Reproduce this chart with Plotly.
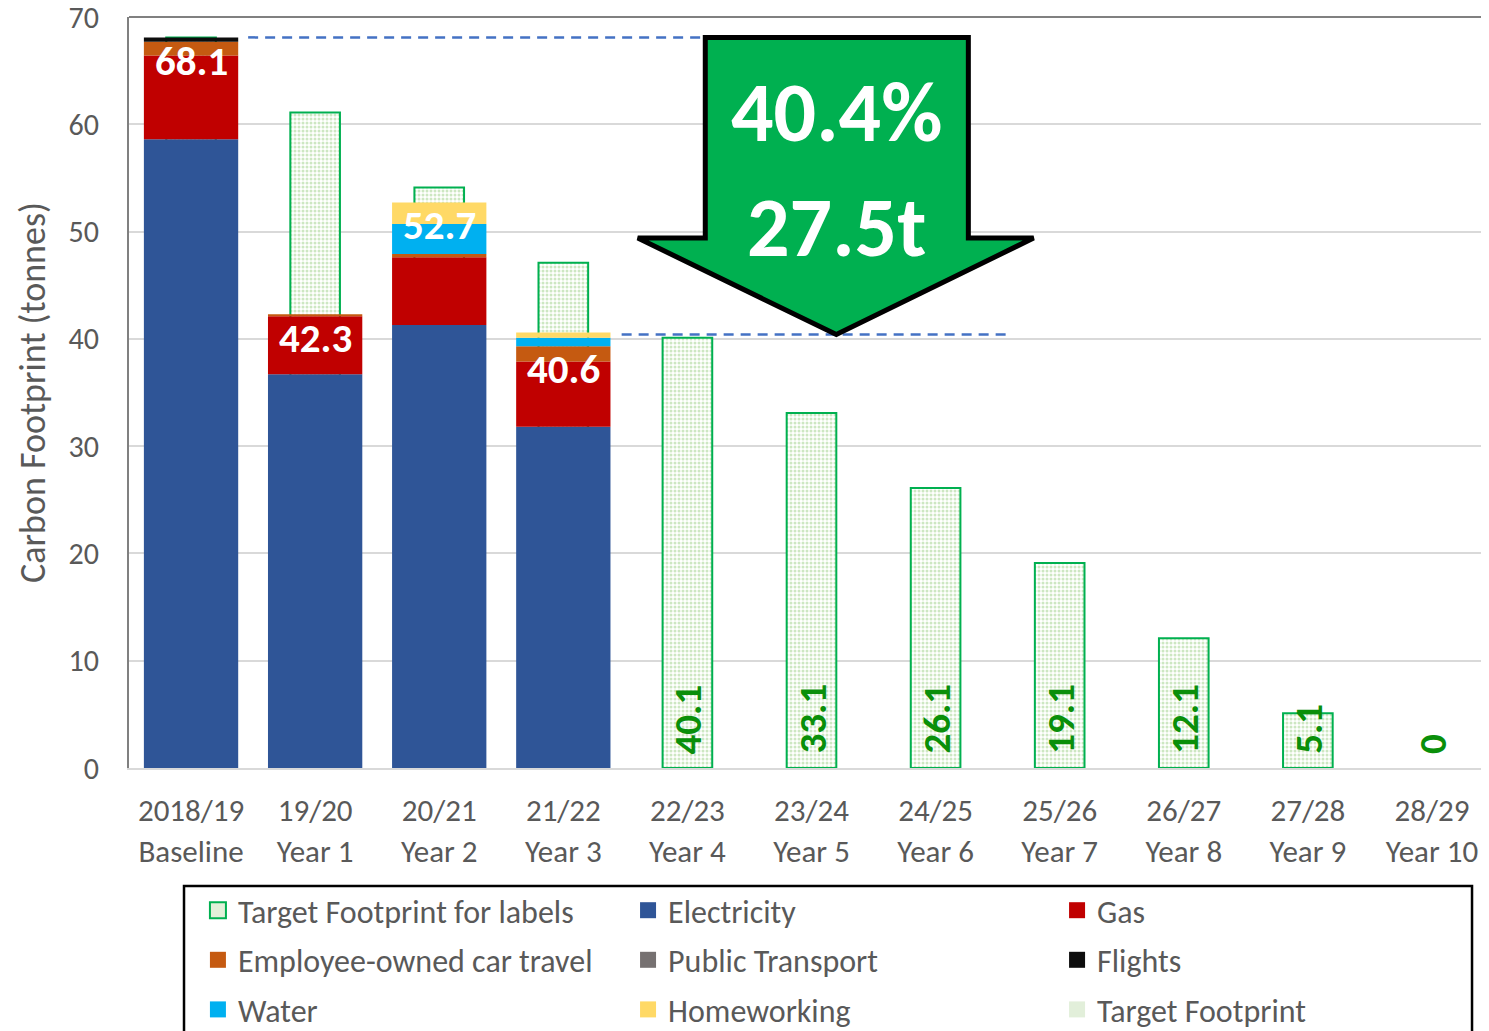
import plotly.graph_objects as go
import numpy as np

categories = ["2018/19<br>Baseline", "19/20<br>Year 1", "20/21<br>Year 2", "21/22<br>Year 3",
              "22/23<br>Year 4", "23/24<br>Year 5", "24/25<br>Year 6", "25/26<br>Year 7",
              "26/27<br>Year 8", "27/28<br>Year 9", "28/29<br>Year 10"]

electricity = [58.6, 36.7, 41.3, 31.8, None, None, None, None, None, None, None]
gas = [7.8, 5.4, 6.3, 6.1, None, None, None, None, None, None, None]
car_travel = [1.3, 0.2, 0.3, 1.4, None, None, None, None, None, None, None]
public_transport = [0.0, 0.0, 0.0, 0.0, None, None, None, None, None, None, None]
flights = [0.4, 0.0, 0.0, 0.0, None, None, None, None, None, None, None]
water = [0.0, 0.0, 2.8, 0.8, None, None, None, None, None, None, None]
homeworking = [0.0, 0.0, 2.0, 0.5, None, None, None, None, None, None, None]
target_labels = [68.1, 61.1, 54.1, 47.1, 40.1, 33.1, 26.1, 19.1, 12.1, 5.1, 0]
target_footprint = [None] * 11

reduction_pct = "40.4%"
reduction_t = "27.5t"

FONT = "Calibri, Carlito, Lato, sans-serif"
GREY = "#595959"

x = list(range(len(categories)))

fig = go.Figure()

# target bars (behind)
fig.add_trace(go.Bar(
    x=x, y=target_labels, name="Target Footprint for labels", width=0.4,
    marker=dict(color="#F4FAF0",
                line=dict(color="#00B050", width=[2 if v > 0 else 0 for v in target_labels]),
                pattern=dict(shape=".", fgcolor="#9BCF86", bgcolor="#FFFFFF", size=4, solidity=0.45)),
    showlegend=False, hoverinfo="skip"))

series = [
    ("Electricity", electricity, "#2F5597"),
    ("Gas", gas, "#C00000"),
    ("Employee-owned car travel", car_travel, "#C55A11"),
    ("Public Transport", public_transport, "#767171"),
    ("Flights", flights, "#0D0D0D"),
    ("Water", water, "#00B0F0"),
    ("Homeworking", homeworking, "#FFD966"),
]
colors = {n: c for n, _, c in series}
colors["Target Footprint"] = "#E2EFDA"

base = np.zeros(len(categories))
for name, vals, col in series:
    v = np.array([np.nan if a is None else a for a in vals], dtype=float)
    fig.add_trace(go.Bar(x=x, y=v, base=base.copy(), name=name, width=0.76, showlegend=False,
                         marker=dict(color=col, line=dict(width=0))))
    base = base + np.nan_to_num(v)

fig.add_trace(go.Bar(x=x, y=target_footprint, name="Target Footprint", showlegend=False,
                     marker=dict(color="#E2EFDA")))

totals = [round(b, 1) for b in base]

# legend entries (three columns, row-wise order as in the source legend)
legend_cols = {
    "legend": ["Target Footprint for labels", "Employee-owned car travel", "Water"],
    "legend2": ["Electricity", "Public Transport", "Homeworking"],
    "legend3": ["Gas", "Flights", "Target Footprint"],
}
for lg, names in legend_cols.items():
    for nm in names:
        if nm == "Target Footprint for labels":
            mk = dict(symbol="square", size=17, color="#E2F0D9", line=dict(color="#00B050", width=2))
        else:
            mk = dict(symbol="square", size=18, color=colors[nm], line=dict(width=0))
        fig.add_trace(go.Scatter(x=[None], y=[None], mode="markers", name=nm, marker=mk,
                                 legend=lg, legendgroup=nm, showlegend=True, hoverinfo="skip"))

annotations = []
label_shift = [3, 3, 5, -10]
for i in range(4):
    annotations.append(dict(x=x[i], y=totals[i], xref="x", yref="y", text=f"<b>{totals[i]:.1f}</b>",
                            showarrow=False, yanchor="top", yshift=label_shift[i],
                            font=dict(family=FONT, size=41, color="white")))
for i in range(4, len(categories)):
    t = target_labels[i]
    txt = "0" if t == 0 else f"{t:.1f}"
    annotations.append(dict(x=x[i], y=0, xref="x", yref="y", text=f"<b>{txt}</b>", textangle=-90,
                            showarrow=False, yanchor="bottom", yshift=12,
                            font=dict(family=FONT, size=39, color="#0A8F0A")))

# arrow geometry in data units
top_v = totals[0]
tip_v = 40.4
shoulder_v = 49.4
sl, sr, hl, hr, tipx = 4.144, 6.264, 3.60, 6.79, 5.2
path = (f"M {sl},{top_v} L {sr},{top_v} L {sr},{shoulder_v} L {hr},{shoulder_v} "
        f"L {tipx},{tip_v} L {hl},{shoulder_v} L {sl},{shoulder_v} Z")

shapes = [
    dict(type="line", xref="x", yref="y", x0=0.46, x1=sl, y0=top_v, y1=top_v,
         line=dict(color="#4472C4", width=2.5, dash="10px,7px")),
    dict(type="line", xref="x", yref="y", x0=3.47, x1=6.6, y0=tip_v, y1=tip_v,
         line=dict(color="#4472C4", width=2.5, dash="10px,7px")),
    dict(type="path", xref="x", yref="y", path=path, fillcolor="#00B050",
         line=dict(color="black", width=5)),
    dict(type="line", xref="paper", yref="paper", x0=0, x1=1, y0=1, y1=1,
         line=dict(color="#808080", width=2)),
    dict(type="rect", xref="paper", yref="paper", x0=0.0403, x1=0.9839, y0=-0.157, y1=-0.45,
         line=dict(color="black", width=2.5), fillcolor="rgba(0,0,0,0)"),
]

annotations += [
    dict(x=tipx, y=61.1, xref="x", yref="y", text=f"<b>{reduction_pct}</b>", showarrow=False,
         font=dict(family=FONT, size=84, color="white")),
    dict(x=tipx, y=50.4, xref="x", yref="y", text=f"<b>{reduction_t}</b>", showarrow=False,
         font=dict(family=FONT, size=84, color="white")),
]

leg_common = dict(orientation="v", yanchor="top", y=-0.153, xanchor="left",
                  bgcolor="rgba(0,0,0,0)", borderwidth=0, tracegroupgap=5,
                  font=dict(family=FONT, size=32, color=GREY))

# page body adds an 8px offset, so the figure is sized to the visible area
fig.update_layout(
    width=1486, height=1023,
    barmode="overlay",
    plot_bgcolor="white", paper_bgcolor="white",
    margin=dict(l=121, r=0, t=9, b=263, autoexpand=False),
    font=dict(family=FONT, color=GREY),
    shapes=shapes, annotations=annotations,
    legend=dict(x=0.0505, **leg_common),
    legend2=dict(x=0.3656, **leg_common),
    legend3=dict(x=0.6799, **leg_common),
    xaxis=dict(tickmode="array", tickvals=x, ticktext=categories, range=[-0.5, 10.5],
               showline=True, linecolor="#D9D9D9", linewidth=2, showgrid=False,
               tickfont=dict(family=FONT, size=31, color=GREY), ticks="", ticklabelstandoff=14),
    yaxis=dict(range=[0, 70], dtick=10, showgrid=True, gridcolor="#D9D9D9", gridwidth=2,
               showline=True, linecolor="#808080", linewidth=2, zeroline=False,
               ticklabeloverflow="allow",
               tickfont=dict(family=FONT, size=30, color=GREY), ticks="", ticklabelstandoff=22,
               title=dict(text="Carbon Footprint (tonnes)", font=dict(family=FONT, size=36, color=GREY),
                          standoff=12)),
)

fig.write_html("out.html")
